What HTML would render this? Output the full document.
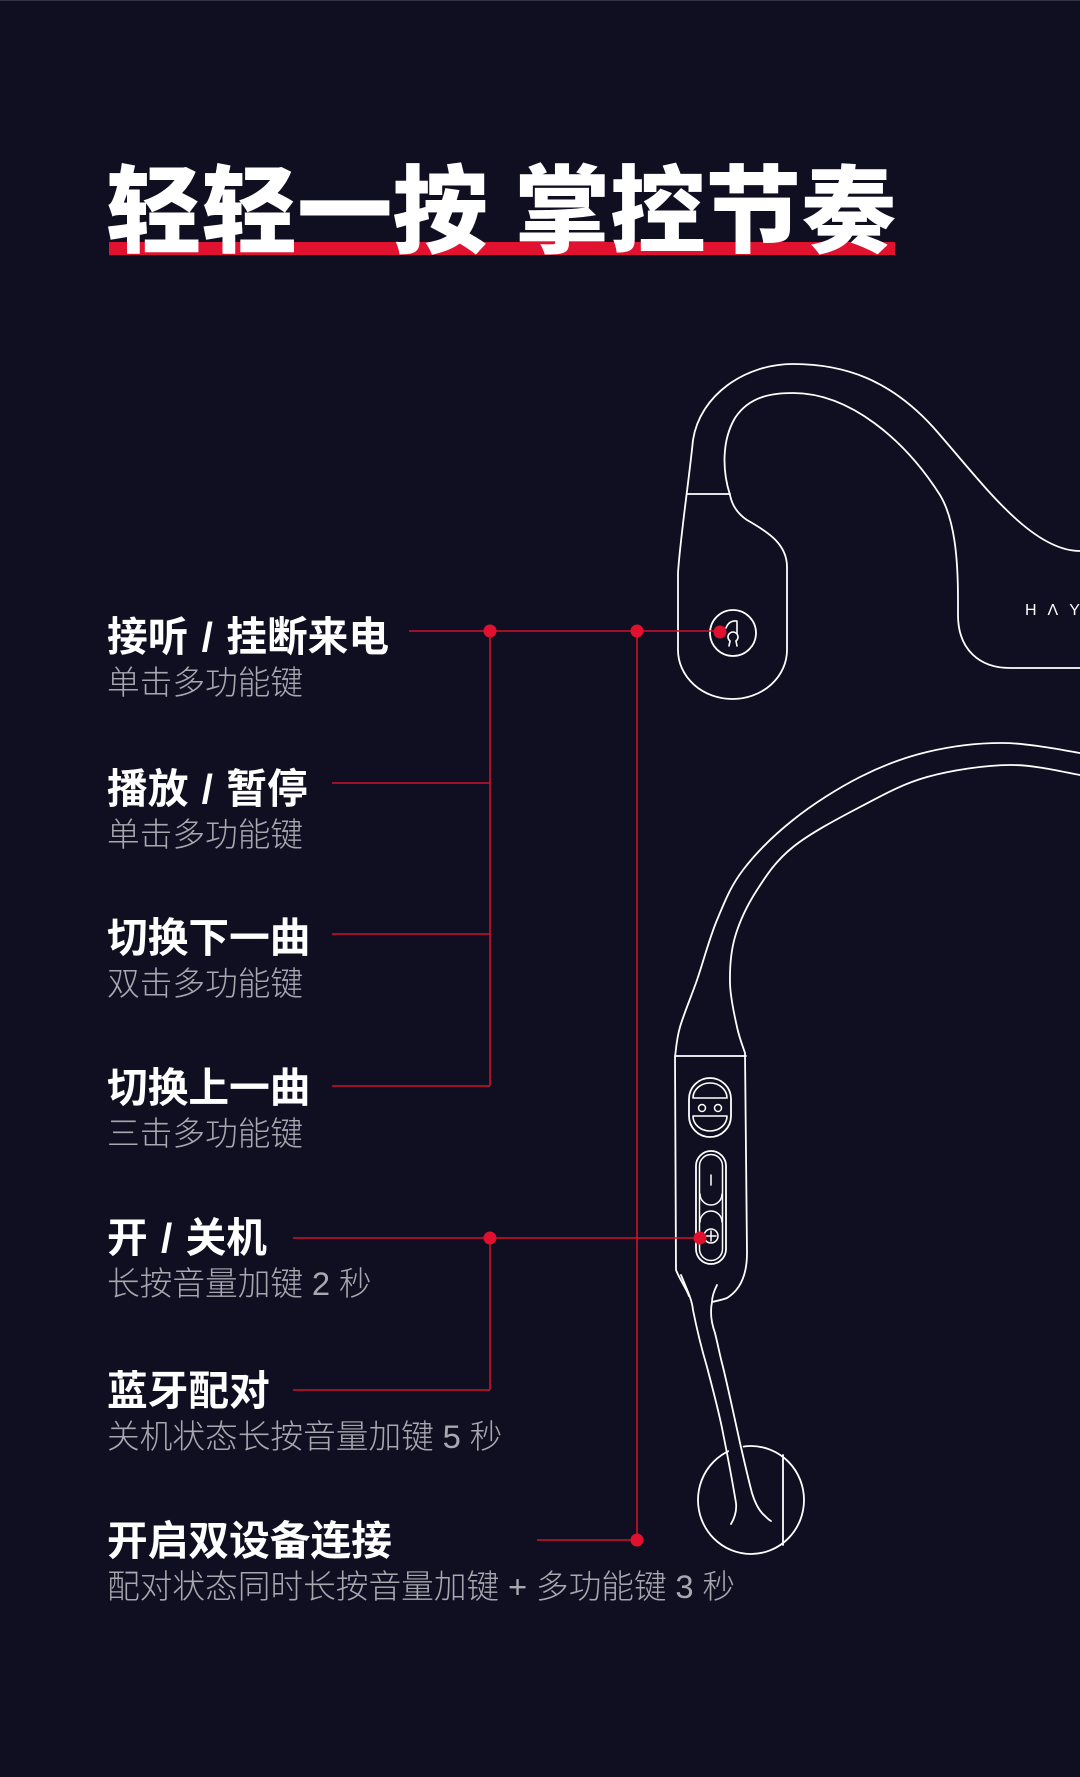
<!DOCTYPE html>
<html>
<head>
<meta charset="utf-8">
<style>
  html,body{margin:0;padding:0;background:#100f21;}
  body{width:1080px;height:1777px;overflow:hidden;}
  svg{display:block;}
  .t{font-family:"Liberation Sans","Noto Sans CJK SC",sans-serif;}
  .lb{font-size:40.7px;font-weight:700;fill:#ffffff;word-spacing:2px;}
  .sb{font-size:32.7px;font-weight:300;fill:#a8a8b0;word-spacing:-0.3px;}
</style>
</head>
<body>
<svg width="1080" height="1777" viewBox="0 0 1080 1777" xmlns="http://www.w3.org/2000/svg">
  <rect x="0" y="0" width="1080" height="1777" fill="#100f21"/>
  <rect x="0" y="0" width="1080" height="1" fill="#34344a"/>

  <!-- Title -->
  <rect x="109" y="242" width="786" height="13" fill="#e11230"/>
  <text class="t" x="106" y="245" font-size="95.5" font-weight="900" fill="#ffffff">轻轻一按 掌控节奏</text>

  <!-- Labels -->
  <text class="t lb" x="107" y="651">接听 / 挂断来电</text>
  <text class="t sb" x="107" y="694">单击多功能键</text>

  <text class="t lb" x="107" y="803">播放 / 暂停</text>
  <text class="t sb" x="107" y="846">单击多功能键</text>

  <text class="t lb" x="107" y="952">切换下一曲</text>
  <text class="t sb" x="107" y="995">双击多功能键</text>

  <text class="t lb" x="107" y="1102">切换上一曲</text>
  <text class="t sb" x="107" y="1145">三击多功能键</text>

  <text class="t lb" x="107" y="1252">开 / 关机</text>
  <text class="t sb" x="107" y="1295">长按音量加键 2 秒</text>

  <text class="t lb" x="107" y="1405">蓝牙配对</text>
  <text class="t sb" x="107" y="1448">关机状态长按音量加键 5 秒</text>

  <text class="t lb" x="107" y="1555">开启双设备连接</text>
  <text class="t sb" x="107" y="1598">配对状态同时长按音量加键 + 多功能键 3 秒</text>

  <!-- Device: upper earpiece / hook -->
  <g fill="none" stroke="#ffffff" stroke-width="1.8" stroke-linecap="round" stroke-linejoin="round">
    <path d="M1080,551 C1030,551 980,480 933,427 C890,380 845,364 793,364 C745,364 700,395 693,440 C689,480 680,540 678,573 L678,650 A54.5,49 0 0 0 787,650 L787,567 C787,545 770,533 747,520 C738,514 732,505 730,495 C722,470 722,440 735,418 C750,395 775,393 793,393 C850,393 905,440 940,495 C955,520 958,560 958,600 L958,615 C958,650 980,668 1010,668 L1080,668"/>
    <line x1="688" y1="494" x2="730" y2="494"/>
    <circle cx="733" cy="633" r="23"/>
    <path d="M726,628 Q729,620 737,621 L737,634" stroke-width="1.6"/>
    <path d="M730,641 A5,5 0 1 1 736,641" stroke-width="1.6"/>
    <path d="M730,641 L729,646 M736,641 L737,646" stroke-width="1.6"/>
  </g>
  <text x="1025" y="615" font-family="Liberation Sans, sans-serif" font-size="16" fill="#ffffff" letter-spacing="11">HΛYLOU</text>

  <!-- Device: neckband lower -->
  <g fill="none" stroke="#ffffff" stroke-width="1.8" stroke-linecap="round" stroke-linejoin="round">
    <path d="M1080,753 C1067,751 1028.5,743 1003,743 C977.5,742.8 950.8,746.3 927,752 C903.2,757.7 882.3,765.7 860,777 C837.7,788.3 812.5,804.5 793,820 C773.5,835.5 755.7,853.3 743,870 C730.3,886.7 724.7,901.7 717,920 C709.3,938.3 703.2,962.2 697,980 C690.8,997.8 683.7,1014.2 680,1027 C676.3,1039.8 675.8,1052 675,1057 L676,1270 C680,1280 686,1288 689,1296"/>
    <path d="M1080,775 C1068.3,773.3 1035.5,764.7 1010,765 C984.5,765.3 952,770 927,777 C902,784 882.3,795.3 860,807 C837.7,818.7 810.2,833.2 793,847 C775.8,860.8 766.7,875 757,890 C747.3,905 739.5,921.5 735,937 C730.5,952.5 729.7,968 730,983 C730.3,998 734.5,1015.3 737,1027 C739.5,1038.7 743.7,1048.7 745,1053 L747,1253 C747,1275 740,1290 727,1298 C722,1300 716,1301 712,1302"/>
    <line x1="675" y1="1056" x2="746" y2="1056"/>
    <!-- multifunction button -->
    <rect x="689" y="1078" width="42" height="59" rx="21" ry="21"/>
    <path d="M693,1098 A17,15 0 0 1 727,1098 Z" stroke-width="1.6"/>
    <path d="M727,1116 A17,15 0 0 1 693,1116 Z" stroke-width="1.6"/>
    <circle cx="702" cy="1108" r="3.5" stroke-width="1.5"/>
    <circle cx="718" cy="1108" r="3.5" stroke-width="1.5"/>
    <!-- volume buttons -->
    <rect x="696" y="1151" width="30" height="113" rx="15" ry="15"/>
    <rect x="699.5" y="1154.5" width="23" height="106" rx="11.5" ry="11.5" stroke-width="1.5"/>
    <path d="M700,1194 A11,11 0 0 0 722,1194" stroke-width="1.5"/>
    <path d="M700,1222 A11,11 0 0 1 722,1222" stroke-width="1.5"/>
    <line x1="711" y1="1175" x2="711" y2="1185" stroke-width="1.5"/>
    <circle cx="711" cy="1236" r="7" stroke-width="1.5"/>
    <line x1="706" y1="1236" x2="716" y2="1236" stroke-width="1.5"/>
    <line x1="711" y1="1231" x2="711" y2="1241" stroke-width="1.5"/>
    <!-- mic -->
    <ellipse cx="751" cy="1500" rx="53" ry="54"/>
    <line x1="783" y1="1455" x2="783" y2="1545"/>
  </g>
  <polygon points="728,1436 741,1436 747,1470 730,1470" fill="#100f21"/>
  <g fill="none" stroke="#ffffff" stroke-width="1.8" stroke-linecap="round" stroke-linejoin="round">
    <path d="M681,1275 C688,1292 692,1300 693,1310 C697,1330 702,1350 707,1367 C713,1390 719,1412 723,1433 C728,1458 733,1485 736,1503 C737,1512 734,1519 731,1524"/>
    <path d="M717,1285 C714,1291 712,1296 712,1302 C710,1312 711,1322 715,1333 C718,1345 720,1356 723,1367 C729,1392 735,1420 740,1443 C744,1460 748,1478 752,1493 C755,1503 759,1511 765,1516 C767,1518 769,1520 771,1521"/>
  </g>

  <!-- Connectors -->
  <g stroke="#d0112b" stroke-width="1.6" fill="none">
    <line x1="409" y1="631" x2="720" y2="631"/>
    <line x1="332" y1="783" x2="490" y2="783"/>
    <line x1="332" y1="934" x2="490" y2="934"/>
    <line x1="332" y1="1086" x2="490" y2="1086"/>
    <line x1="293" y1="1238" x2="700" y2="1238"/>
    <line x1="293" y1="1390" x2="490" y2="1390"/>
    <line x1="537" y1="1540" x2="637" y2="1540"/>
    <line x1="490" y1="631" x2="490" y2="1086"/>
    <line x1="637" y1="631" x2="637" y2="1540"/>
    <line x1="490" y1="1238" x2="490" y2="1390"/>
  </g>
  <g fill="#e0112e">
    <circle cx="490" cy="631" r="6.5"/>
    <circle cx="637" cy="631" r="6.5"/>
    <circle cx="720" cy="632" r="6.5"/>
    <circle cx="490" cy="1238" r="6.5"/>
    <circle cx="700" cy="1238" r="6.5"/>
    <circle cx="637" cy="1540" r="6.5"/>
  </g>
</svg>
</body>
</html>
